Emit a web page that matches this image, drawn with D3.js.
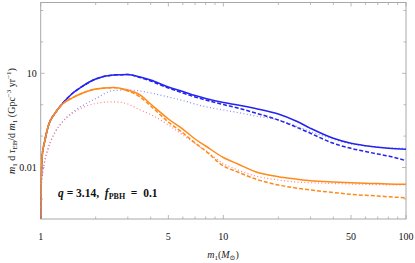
<!DOCTYPE html>
<html>
<head>
<meta charset="utf-8">
<script src="https://cdn.jsdelivr.net/npm/d3@7"></script>
<style>
  body { margin: 0; background: #fff; }
  svg { display: block; font-family: "Liberation Serif", "DejaVu Serif", serif; }
  .pre { white-space: pre; }
</style>
</head>
<body>
<svg id="chart" width="415" height="263"></svg>
<script>
// m1 sample points (solar masses)
var masses = [1, 1.005, 1.01, 1.02, 1.05, 1.1, 1.2, 1.3, 1.5, 1.7, 2, 2.5, 3, 3.5, 4, 5, 6, 7, 8, 10, 12, 15, 20, 25, 30, 40, 50, 60, 70, 80, 100];

// rates, one value per mass above
var orangeSolid = [1e-4, 0.00192, 0.00832, 0.025, 0.0649, 0.21, 0.544, 0.977, 1.69, 2.36, 3.16, 3.53, 2.94, 2.04, 1.05, 0.351, 0.168, 0.0809, 0.0484, 0.0208, 0.0129, 0.00735, 0.00509, 0.0043, 0.0038, 0.00345, 0.00328, 0.00316, 0.00307, 0.00298, 0.00292];
var orangeDashed = [1e-4, 0.00192, 0.00832, 0.025, 0.0649, 0.21, 0.544, 0.977, 1.69, 2.36, 3.16, 3.5, 2.73, 1.76, 0.91, 0.281, 0.126, 0.0603, 0.0335, 0.0112, 0.00719, 0.0043, 0.00277, 0.00222, 0.00192, 0.0016, 0.0014, 0.0013, 0.00124, 0.00117, 0.00109];
var pinkDotted = [1e-4, 0.00064, 0.00277, 0.00536, 0.015, 0.0418, 0.135, 0.261, 0.544, 0.815, 1.09, 1.24, 1.05, 0.678, 0.488, 0.226, 0.108, 0.0581, 0.0348, 0.0134, 0.00832, 0.00536, 0.004, 0.00345, 0.00328, 0.00309, 0.00298, 0.00292, 0.00285, 0.00281, 0.00277];
var blueSolid = [1e-4, 0.00192, 0.00832, 0.025, 0.0649, 0.21, 0.544, 1.0, 2.36, 3.94, 6.58, 8.83, 9.16, 7.62, 6.12, 3.66, 2.63, 1.96, 1.57, 1.17, 0.977, 0.757, 0.506, 0.303, 0.177, 0.0851, 0.059, 0.0494, 0.044, 0.0408, 0.038];
var blueDashed = [1e-4, 0.00192, 0.00832, 0.025, 0.0649, 0.21, 0.544, 1.0, 2.36, 3.94, 6.58, 8.8, 9.1, 7.35, 5.69, 3.4, 2.36, 1.76, 1.41, 1.01, 0.785, 0.544, 0.326, 0.195, 0.123, 0.059, 0.0408, 0.0324, 0.0269, 0.0232, 0.0165];
var blueDotted = [1e-4, 0.00064, 0.00277, 0.00536, 0.015, 0.0418, 0.135, 0.261, 0.586, 0.944, 1.57, 2.83, 2.94, 2.73, 2.36, 1.76, 1.36, 1.05, 0.863, 0.678, 0.565, 0.437, 0.326, 0.21, 0.14, 0.0791, 0.056, 0.0484, 0.045, 0.0428, 0.0408];

var xTickLabels = [1, 5, 10, 50, 100];
var xMinorTicks = [2, 3, 4, 6, 7, 8, 9, 20, 30, 40, 60, 70, 80, 90];
var yTickLabels = [10, 0.01];
var yMinorTicks = [1e-3, 0.1, 1, 100, 1000];

var svg = d3.select("#chart");
var plotL = 40.7, plotR = 406, plotT = 2.5, plotB = 219;

var x = d3.scaleLog().domain([1, 100]).range([plotL, plotR]);
var y = d3.scaleLog().domain([Math.pow(10, -3.64), Math.pow(10, 3.255)]).range([plotB, plotT]);

svg.append("defs").append("clipPath").attr("id", "plotClip")
  .append("rect").attr("x", plotL).attr("y", plotT).attr("width", plotR - plotL).attr("height", plotB - plotT);

// frame
svg.append("rect")
  .attr("x", plotL).attr("y", plotT)
  .attr("width", plotR - plotL).attr("height", plotB - plotT)
  .attr("fill", "none").attr("stroke", "#a8a8a8").attr("stroke-width", 1);

var tickColor = "#a8a8a8";
var ticksG = svg.append("g").attr("stroke", tickColor).attr("stroke-width", 0.8);

// x ticks, bottom and top, pointing inward
xTickLabels.concat(xMinorTicks).forEach(function (t) {
  var len = xTickLabels.indexOf(t) >= 0 ? 4 : 2.5;
  ticksG.append("line").attr("x1", x(t)).attr("x2", x(t)).attr("y1", plotB).attr("y2", plotB - len);
  ticksG.append("line").attr("x1", x(t)).attr("x2", x(t)).attr("y1", plotT).attr("y2", plotT + len);
});
// y ticks, left and right
yTickLabels.concat(yMinorTicks).forEach(function (t) {
  var len = yTickLabels.indexOf(t) >= 0 ? 4 : 2.5;
  ticksG.append("line").attr("x1", plotL).attr("x2", plotL + len).attr("y1", y(t)).attr("y2", y(t));
  ticksG.append("line").attr("x1", plotR).attr("x2", plotR - len).attr("y1", y(t)).attr("y2", y(t));
});

svg.append("g").selectAll("text").data(xTickLabels).enter().append("text")
  .attr("x", d => x(d)).attr("y", 240)
  .attr("text-anchor", "middle").attr("font-size", 10).attr("fill", "#111")
  .text(d => d);

svg.append("g").selectAll("text").data(yTickLabels).enter().append("text")
  .attr("x", plotL - 4).attr("y", d => y(d) + 3.5)
  .attr("text-anchor", "end").attr("font-size", 10).attr("fill", "#111")
  .text(d => d);

// curves
var line = d3.line()
  .x(d => x(d[0]))
  .y(d => y(d[1]))
  .curve(d3.curveMonotoneX);

var series = [
  { vals: blueDotted, color: "#8a8aff", width: 1.2, dash: "1,2.4" },
  { vals: pinkDotted, color: "#ff8080", width: 1.2, dash: "1,2.4" },
  { vals: blueDashed, color: "#2424f0", width: 1.5, dash: "4,2" },
  { vals: blueSolid, color: "#2424f0", width: 1.5, dash: null },
  { vals: orangeDashed, color: "#ff8a1a", width: 1.5, dash: "4,2" },
  { vals: orangeSolid, color: "#ff8a1a", width: 1.5, dash: null }
];

var plot = svg.append("g").attr("clip-path", "url(#plotClip)");
series.forEach(function (s) {
  plot.append("path")
    .datum(masses.map((m, i) => [m, s.vals[i]]))
    .attr("d", line)
    .attr("fill", "none")
    .attr("stroke", s.color)
    .attr("stroke-width", s.width)
    .attr("stroke-dasharray", s.dash);
});

// annotation
var note = svg.append("text").attr("class", "pre").attr("x", 58).attr("y", 197)
  .attr("font-size", 11.5).attr("font-weight", "bold").attr("fill", "#111");
note.append("tspan").attr("font-style", "italic").text("q");
note.append("tspan").text(" = 3.14,  ");
note.append("tspan").attr("font-style", "italic").text("f");
note.append("tspan").attr("font-size", 8).attr("dy", 2).text("PBH");
note.append("tspan").attr("dy", -2).text("  =  0.1");

// axis titles
var xt = svg.append("text").attr("x", 223).attr("y", 258)
  .attr("text-anchor", "middle").attr("font-size", 10).attr("fill", "#222");
xt.append("tspan").attr("font-style", "italic").text("m");
xt.append("tspan").attr("font-size", 7).attr("dy", 2).text("1");
xt.append("tspan").attr("dy", -2).text("(");
xt.append("tspan").attr("font-style", "italic").text("M");
xt.append("tspan").attr("font-size", 7).attr("dy", 2).text("⊙");
xt.append("tspan").attr("dy", -2).text(")");

var yt = svg.append("text").attr("transform", "translate(15,121) rotate(-90)")
  .attr("text-anchor", "middle").attr("font-size", 10).attr("fill", "#222");
yt.append("tspan").attr("font-style", "italic").text("m");
yt.append("tspan").attr("font-size", 7).attr("dy", 2).text("1");
yt.append("tspan").attr("dy", -2).text(" d ");
yt.append("tspan").attr("font-style", "italic").text("τ");
yt.append("tspan").attr("font-size", 7).attr("dy", 2).text("EB");
yt.append("tspan").attr("dy", -2).text("/d ");
yt.append("tspan").attr("font-style", "italic").text("m");
yt.append("tspan").attr("font-size", 7).attr("dy", 2).text("1");
yt.append("tspan").attr("dy", -2).text(" (Gpc");
yt.append("tspan").attr("font-size", 7).attr("dy", -4).text("−3");
yt.append("tspan").attr("dy", 4).text(" yr");
yt.append("tspan").attr("font-size", 7).attr("dy", -4).text("−1");
yt.append("tspan").attr("dy", 4).text(")");
</script>
</body>
</html>
